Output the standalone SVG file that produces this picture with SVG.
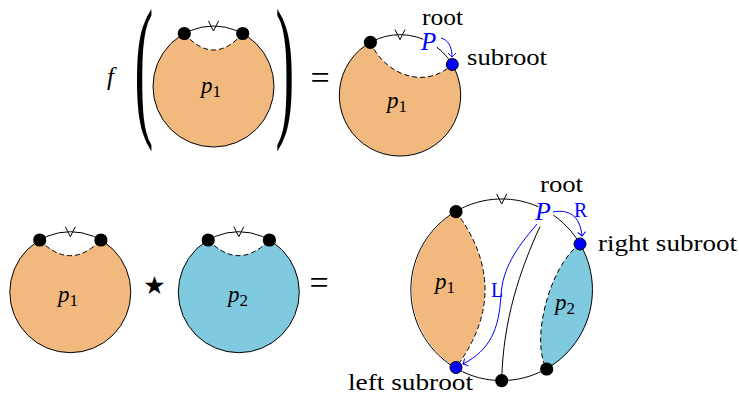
<svg xmlns="http://www.w3.org/2000/svg" width="739" height="396" viewBox="0 0 739 396">
<style>
.bg{fill:#ffffff}
.orange{fill:#F2B97F;stroke:none}
.cyan{fill:#80CAE0;stroke:none}
.edge{fill:none;stroke:#000;stroke-width:1}
.dash{fill:none;stroke:#000;stroke-width:1;stroke-dasharray:5 3}
.vm{fill:none;stroke:#000;stroke-width:1}
.dot{fill:#000}
.bdot{fill:#0000FF;stroke:#000;stroke-width:1}
.barrow{fill:none;stroke:#0000FF;stroke-width:1}
.txt{fill:#000}
.lbl{font-size:24px;fill:#000}
.pl{font-style:italic;font-size:23px;fill:#000}
.sub{font-style:normal;font-size:17px}
.bP{font-style:italic;fill:#0000FF}
.bL{font-size:20px;fill:#0000FF}
</style>
<defs>
<path id="vmark" class="vm" d="M-5,-5 L0,5 L5,-5"/>
<marker id="to" markerUnits="userSpaceOnUse" markerWidth="12" markerHeight="12" refX="0" refY="0" viewBox="-6 -6 12 12" orient="auto" overflow="visible">
<path d="M-4,-4 Q-1,-1 0,0 Q-1,1 -4,4" fill="none" stroke="#0000FF" stroke-width="1"/>
</marker>
</defs>
<rect class="bg" x="0" y="0" width="739" height="396"/>

<g font-family="'Liberation Serif', 'DejaVu Serif', serif">
<g id="top-left">
<text class="pl" x="107" y="85" style="font-size:25px">f</text>
<text class="txt" transform="matrix(0.36,0,0,1,134.4,117.5)" style="font-size:156px">(</text>
<path class="orange" d="M184.3,33.5 A60.5,60.5 0 1 0 242.7,33.5 Q213.5,66.5 184.3,33.5 Z"/>
<circle class="edge" cx="213.5" cy="86.5" r="60.5"/>
<path class="dash" d="M184.3,33.5 Q213.5,66.5 242.7,33.5"/>
<use href="#vmark" x="213.5" y="26"/>
<circle class="dot" cx="184.3" cy="33.5" r="6.6"/>
<circle class="dot" cx="242.7" cy="33.5" r="6.6"/>
<text class="pl" x="201" y="93">p<tspan class="sub" dy="3.5">1</tspan></text>
<text class="txt" transform="matrix(0.36,0,0,1,275.4,117.5)" style="font-size:156px">)</text>
<text class="txt" x="320" y="89" text-anchor="middle" style="font-size:34px">=</text>
</g>

<g id="top-right">
<path class="orange" d="M370.4,42.3 A60.7,60.7 0 1 0 452.3,64.5 C425,90 385,75 370.4,42.3 Z"/>
<path class="edge" d="M436.7,47 A60.7,60.7 0 1 1 423.3,39.3"/>
<path class="dash" d="M370.4,42.3 C385,75 425,90 452.3,64.5"/>
<use href="#vmark" x="400" y="34.6"/>
<circle class="dot" cx="370.4" cy="42.3" r="6.6"/>
<circle class="bdot" cx="452.3" cy="64.5" r="6"/>
<text class="pl" x="387" y="108">p<tspan class="sub" dy="3.5">1</tspan></text>
<text class="bP" x="421" y="50" style="font-size:25px">P</text>
<text class="lbl" x="422" y="25" textLength="41" lengthAdjust="spacingAndGlyphs">root</text>
<text class="lbl" x="467" y="65" textLength="80" lengthAdjust="spacingAndGlyphs">subroot</text>
</g>

<g id="bottom-p1">
<path class="orange" d="M39.7,240 A60.5,60.5 0 1 0 100.9,240 Q70.3,271.4 39.7,240 Z"/>
<circle class="edge" cx="70.3" cy="292.2" r="60.5"/>
<path class="dash" d="M39.7,240 Q70.3,271.4 100.9,240"/>
<use href="#vmark" x="70.3" y="231.7"/>
<circle class="dot" cx="39.7" cy="240" r="6.6"/>
<circle class="dot" cx="100.9" cy="240" r="6.6"/>
<text class="pl" x="58" y="302">p<tspan class="sub" dy="3.5">1</tspan></text>
</g>

<text class="txt" x="154.5" y="294" text-anchor="middle" font-family="'DejaVu Sans', sans-serif" style="font-size:25px">★</text>

<g id="bottom-p2">
<path class="cyan" d="M208.2,240 A60.5,60.5 0 1 0 269.4,240 Q238.8,271.4 208.2,240 Z"/>
<circle class="edge" cx="238.8" cy="292.2" r="60.5"/>
<path class="dash" d="M208.2,240 Q238.8,271.4 269.4,240"/>
<use href="#vmark" x="238.8" y="231.7"/>
<circle class="dot" cx="208.2" cy="240" r="6.6"/>
<circle class="dot" cx="269.4" cy="240" r="6.6"/>
<text class="pl" x="228" y="302">p<tspan class="sub" dy="3.5">2</tspan></text>
</g>

<text class="txt" x="319" y="294" text-anchor="middle" style="font-size:34px">=</text>

<g id="big">
<path class="orange" d="M456,211.7 A90.8,90.8 0 0 0 456,367.5 Q514,289.6 456,211.7 Z"/>
<path class="cyan" d="M580,244 A90.8,90.8 0 0 1 546.7,369 C530,340 550,265 580,244 Z"/>
<path class="edge" d="M553.3,215.1 A90.8,90.8 0 1 1 538.3,206.7"/>
<path class="dash" d="M456,211.7 Q514,289.6 456,367.5"/>
<path class="dash" d="M580,244 C550,265 530,340 546.7,369"/>
<use href="#vmark" x="501.7" y="199"/>
<text class="pl" x="435" y="289">p<tspan class="sub" dy="3.5">1</tspan></text>
<text class="pl" x="555" y="310">p<tspan class="sub" dy="3.5">2</tspan></text>
<text class="bP" x="535" y="220" style="font-size:26px">P</text>
<text class="lbl" x="540" y="191.7" textLength="43" lengthAdjust="spacingAndGlyphs">root</text>
<text class="lbl" x="598" y="251" textLength="139" lengthAdjust="spacingAndGlyphs">right subroot</text>
<text class="lbl" x="348" y="390" textLength="125" lengthAdjust="spacingAndGlyphs">left subroot</text>
<text class="bL" x="491" y="296.5">L</text>
<text class="bL" x="574" y="216.5">R</text>
</g>
</g>

<g id="connectors">
<path class="edge" d="M540,226.5 C520,270 503,320 501.7,380.6"/>
<path class="barrow" marker-end="url(#to)" d="M537,224 C515,250 503,268 501,295 C499,330 490,350 463,364"/>
<path class="barrow" marker-end="url(#to)" d="M553,212 C568,209 580,215 582,236"/>
<path class="barrow" marker-end="url(#to)" d="M441,38 C448,40 452,46 452,57"/>
</g>

<g id="big-dots">
<circle class="dot" cx="456" cy="211.7" r="6.6"/>
<circle class="bdot" cx="580" cy="244" r="6"/>
<circle class="bdot" cx="456" cy="367.5" r="6"/>
<circle class="dot" cx="501.7" cy="380.6" r="6.6"/>
<circle class="dot" cx="546.7" cy="369" r="6.6"/>
</g>
</svg>
